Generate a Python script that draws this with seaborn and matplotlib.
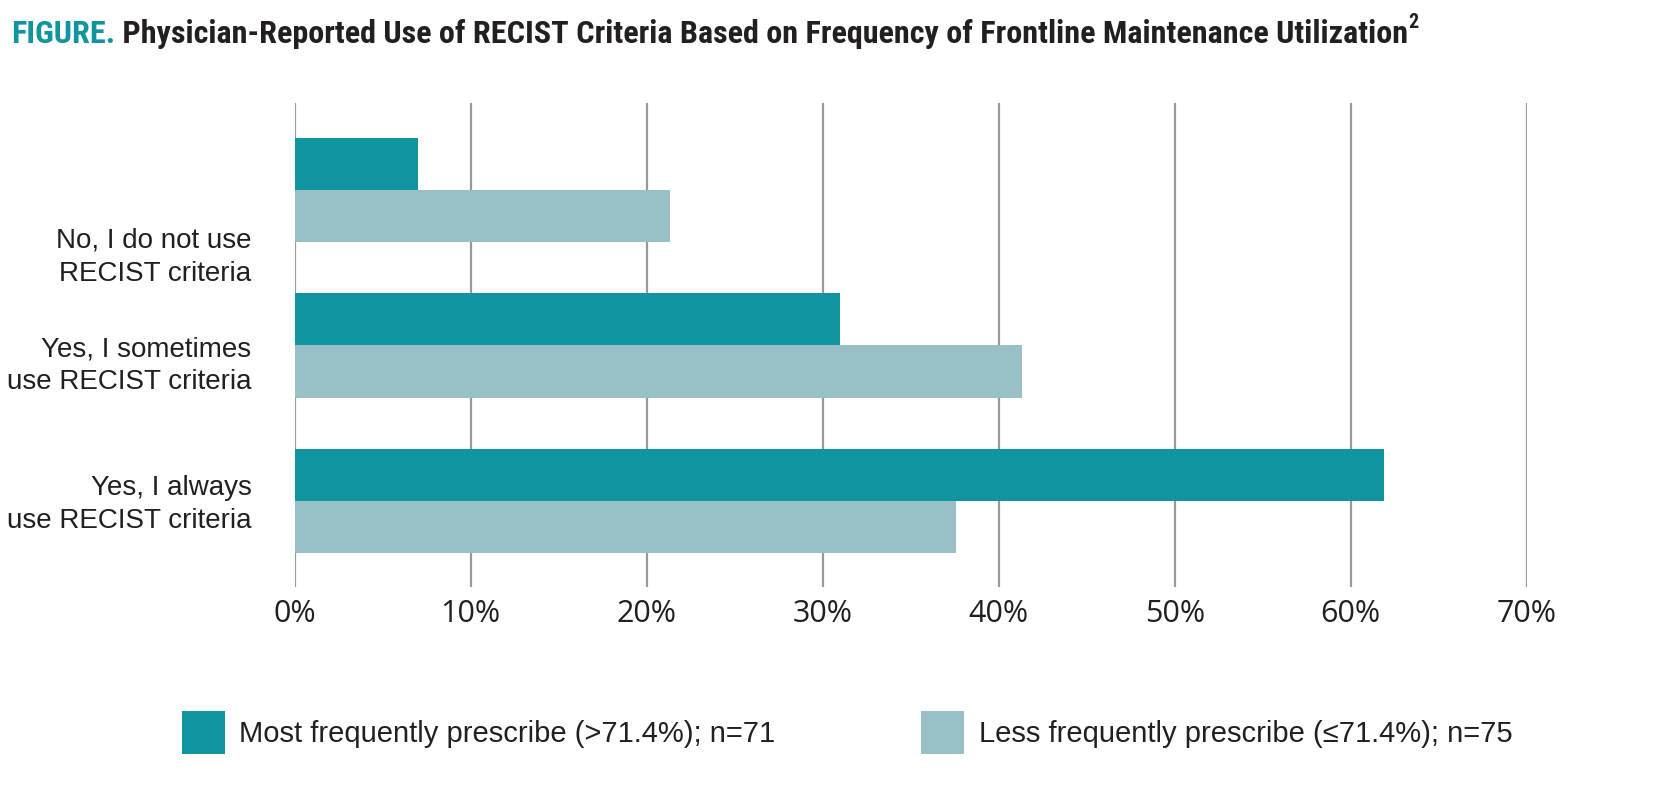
import pandas as pd
import matplotlib.pyplot as plt
import matplotlib.font_manager as fm
import seaborn as sns
from matplotlib.ticker import FuncFormatter

# values (% of physicians)
responses = ['No, I do not use\nRECIST criteria',
             'Yes, I sometimes\nuse RECIST criteria',
             'Yes, I always\nuse RECIST criteria']
most_freq = [7.0, 31.0, 61.9]
less_freq = [21.3, 41.3, 37.6]
groups = ['Most frequently prescribe (>71.4%); n=71',
          'Less frequently prescribe (\u226471.4%); n=75']
label_pos = [0.39, 1.09, 1.98]   # the category labels sit a little below each pair

teal = '#1094A0'
light = '#9AC0C7'
ink = '#231F20'

data = pd.DataFrame({
    'Response': responses * 2,
    'Group': [groups[0]] * 3 + [groups[1]] * 3,
    'Percent': most_freq + less_freq,
})


def bold_condensed():
    # look for any installed bold narrow/condensed face for the title
    prefs = ['Liberation Sans Narrow', 'Roboto Condensed', 'Open Sans Condensed',
             'DejaVu Sans', 'Noto Sans', 'Roboto']
    found = []
    for f in fm.fontManager.ttflist:
        name = f.fname.lower()
        w = f.weight if isinstance(f.weight, int) else fm.weight_dict.get(f.weight, 400)
        narrow = ('condensed' in name or 'narrow' in name or
                  f.stretch in ('condensed', 'semi-condensed', 'extra-condensed'))
        if narrow and w >= 600 and 'italic' not in name and 'oblique' not in name:
            rank = next((i for i, p in enumerate(prefs) if f.name.startswith(p)), 99)
            found.append((rank, f.fname))
    if found:
        return fm.FontProperties(fname=sorted(found)[0][1])
    return fm.FontProperties(family='Roboto', weight='bold')


sns.set_style('white')
fig = plt.figure(figsize=(16.6, 7.86), dpi=100)
ax = fig.add_axes([0.1775, 0.2532, 0.7422, 0.6154])

sns.barplot(data=data, y='Response', x='Percent', hue='Group', orient='h',
            palette=[teal, light], width=0.67, gap=0, saturation=1,
            linewidth=0, ax=ax)

ax.set_xlim(0, 70)
ax.set_xticks(range(0, 71, 10))
ax.xaxis.set_major_formatter(FuncFormatter(lambda v, p: f'{v:.0f}%'))
ax.set_ylim(2.553, -0.557)
ax.set_yticks(label_pos, responses)
ax.set_xlabel('')
ax.set_ylabel('')
ax.xaxis.grid(True, color='#999999', linewidth=1.6)
ax.yaxis.grid(False)
ax.set_axisbelow(True)
sns.despine(ax=ax, left=True, bottom=True)
ax.tick_params(axis='x', length=0, pad=9, labelsize=22, labelcolor=ink)
ax.tick_params(axis='y', length=0, pad=31, labelsize=20, labelcolor=ink)
for t in ax.get_xticklabels():
    t.set_family('Open Sans')
for t in ax.get_yticklabels():
    t.set_family('Liberation Sans')
    t.set_linespacing(1.35)

sns.move_legend(ax, loc='center left', bbox_to_anchor=(182 / 1660, 1 - 732.5 / 786),
                bbox_transform=fig.transFigure, ncol=2, frameon=False, title=None,
                borderpad=0, borderaxespad=0, handlelength=1.47, handleheight=1.89,
                handletextpad=0.5, columnspacing=5.0,
                prop={'family': 'Liberation Sans', 'size': 21})
for t in ax.get_legend().get_texts():
    t.set_color(ink)

# title: teal lead-in, dark rest, superscript reference
tprop = bold_condensed()
tprop.set_size(21)
t1 = fig.text(11 / 1660, 1 - 43 / 786, 'FIGURE.', color=teal, va='baseline',
              fontproperties=tprop)
t2 = ax.annotate(' Physician-Reported Use of RECIST Criteria Based on Frequency of '
                 'Frontline Maintenance Utilization',
                 xy=(1, 0), xycoords=t1, va='bottom', color=ink, fontproperties=tprop)

# fit the size so the title line spans the same width as in the original
fig.canvas.draw()
right = t2.get_window_extent().x1
scale = min(max((1409 - 11) / (right - 11), 0.6), 1.15)
t1.set_fontsize(21 * scale)
t2.set_fontsize(21 * scale)
sprop = tprop.copy()
sprop.set_size(13 * scale)
ax.annotate('2', xy=(1, 0.55), xycoords=t2, va='bottom', color=ink, fontproperties=sprop)

plt.savefig('out.png', dpi=100)
